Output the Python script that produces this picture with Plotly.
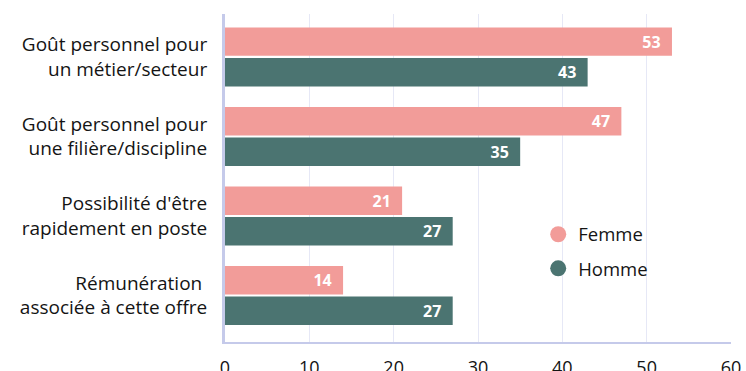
import plotly.graph_objects as go

categories = [
    "Goût personnel pour<br>un métier/secteur",
    "Goût personnel pour<br>une filière/discipline",
    "Possibilité d'être<br>rapidement en poste",
    "Rémunération\u00a0<br>associée à cette offre",
]
femme = [53, 47, 21, 14]
homme = [43, 35, 27, 27]
x_ticks = [0, 10, 20, 30, 40, 50, 60]

FEMME_COLOR = "#F29C99"
HOMME_COLOR = "#4B7471"
FONT = "Open Sans"
TEXT_COLOR = "#141414"

fig = go.Figure()

for name, vals, color in [("Femme", femme, FEMME_COLOR), ("Homme", homme, HOMME_COLOR)]:
    fig.add_trace(go.Bar(
        y=categories, x=vals, name=name, orientation="h",
        marker=dict(color=color, line=dict(width=0)),
        text=[f"{v}\u00a0\u00a0" for v in vals], textposition="inside",
        insidetextanchor="end", textangle=0, constraintext="none",
        textfont=dict(family=FONT, size=16, color="white", weight="bold"),
        showlegend=False, cliponaxis=False,
    ))

# round legend markers
for name, color in [("Femme", FEMME_COLOR), ("Homme", HOMME_COLOR)]:
    fig.add_trace(go.Scatter(
        x=[None], y=[None], mode="markers", name=name, legendgroup=name,
        marker=dict(symbol="circle", size=16, color=color),
    ))

fig.update_layout(
    width=746, height=371,
    margin=dict(l=225, r=15, t=14, b=29, autoexpand=False),
    paper_bgcolor="white", plot_bgcolor="white",
    barmode="group", bargap=0.23, bargroupgap=0.07,
    font=dict(family=FONT, size=18, color=TEXT_COLOR),
    showlegend=True,
    legend=dict(
        x=0.619, y=0.385, xanchor="left", yanchor="top",
        bgcolor="rgba(0,0,0,0)", tracegroupgap=7,
        font=dict(family=FONT, size=18.5, color=TEXT_COLOR),
        itemwidth=30,
    ),
    xaxis=dict(
        range=[0, 60], tickvals=x_ticks, showgrid=True, automargin=False,
        gridcolor="#E6E8F6", gridwidth=1.2, zeroline=False,
        showline=True, linecolor="#C5CAEA", linewidth=2,
        ticks="", ticklabelstandoff=8,
        tickfont=dict(family=FONT, size=18, color=TEXT_COLOR),
    ),
    yaxis=dict(
        type="category", range=[3.585, -0.54], automargin=False,
        showgrid=False, zeroline=False,
        showline=True, linecolor="#C5CAEA", linewidth=3,
        ticks="", ticklabelstandoff=11,
        tickfont=dict(family=FONT, size=19, color=TEXT_COLOR),
    ),
)

fig.write_html("out.html")
